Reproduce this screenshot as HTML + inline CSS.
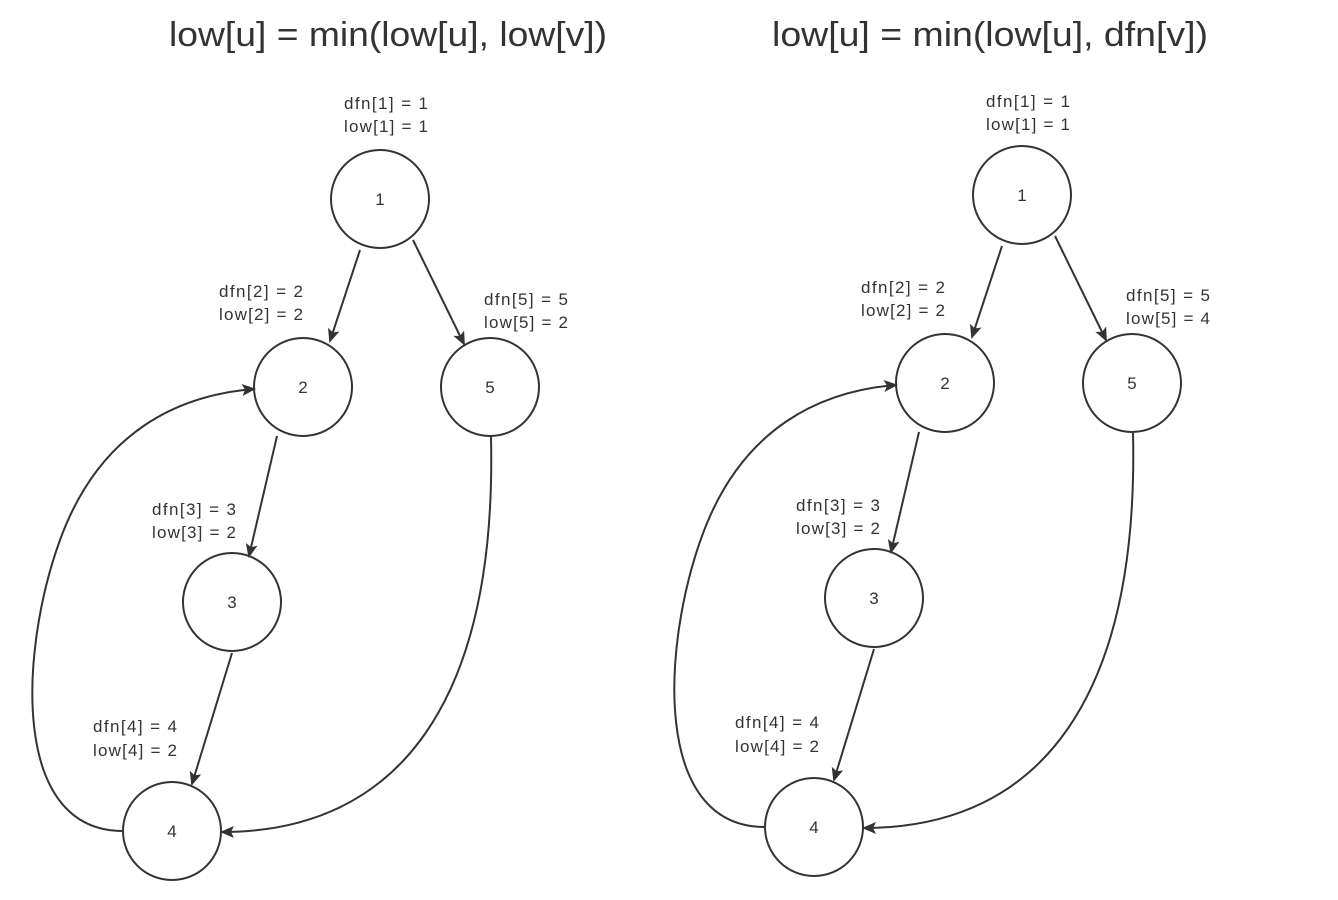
<!DOCTYPE html>
<html><head><meta charset="utf-8"><style>
body{margin:0;background:#fff}
svg{display:block}
text{font-family:"Liberation Sans",sans-serif;fill:#333}
</style></head><body>
<svg width="1338" height="900" viewBox="0 0 1338 900" xmlns="http://www.w3.org/2000/svg">
<defs>
<marker id="a" markerWidth="14" markerHeight="12" refX="12" refY="6" orient="auto" markerUnits="userSpaceOnUse">
<path d="M0,0 L14,6 L0,12 L3,6 Z" fill="#333"/></marker>
</defs>
<g id="L">
<text x="388" y="46" font-size="34" text-anchor="middle" textLength="438" lengthAdjust="spacingAndGlyphs">low[u] = min(low[u], low[v])</text>
<g fill="none" stroke="#333" stroke-width="2">
<circle cx="380" cy="199" r="49" fill="#fff"/>
<circle cx="303" cy="387" r="49" fill="#fff"/>
<circle cx="490" cy="387" r="49" fill="#fff"/>
<circle cx="232" cy="602" r="49" fill="#fff"/>
<circle cx="172" cy="831" r="49" fill="#fff"/>
<path d="M360,250 L330,341" marker-end="url(#a)"/>
<path d="M413,240 L464,344" marker-end="url(#a)"/>
<path d="M277,436 L249,556" marker-end="url(#a)"/>
<path d="M232,653 L192,784" marker-end="url(#a)"/>
<path d="M491,437 C497,700 400,832 222,832" marker-end="url(#a)"/>
<path d="M123,831 C10,831 20,650 60,540 C100,430 180,395 254,389" marker-end="url(#a)"/>
</g>
<g font-size="17" text-anchor="middle">
<text x="380" y="205">1</text><text x="303" y="393">2</text><text x="490" y="393">5</text>
<text x="232" y="608">3</text><text x="172" y="837">4</text>
<text x="386" y="109" textLength="84">dfn[1] = 1</text><text x="386" y="132" textLength="84">low[1] = 1</text>
<text x="261" y="297" textLength="84">dfn[2] = 2</text><text x="261" y="320" textLength="84">low[2] = 2</text>
<text x="526" y="305" textLength="84">dfn[5] = 5</text><text x="526" y="328" textLength="84">low[5] = 2</text>
<text x="194" y="515" textLength="84">dfn[3] = 3</text><text x="194" y="538" textLength="84">low[3] = 2</text>
<text x="135" y="732" textLength="84">dfn[4] = 4</text><text x="135" y="756" textLength="84">low[4] = 2</text>
</g>
</g>
<g transform="translate(642,-4)">
<text x="348" y="50" font-size="34" text-anchor="middle" textLength="436" lengthAdjust="spacingAndGlyphs">low[u] = min(low[u], dfn[v])</text>
<g fill="none" stroke="#333" stroke-width="2">
<circle cx="380" cy="199" r="49" fill="#fff"/>
<circle cx="303" cy="387" r="49" fill="#fff"/>
<circle cx="490" cy="387" r="49" fill="#fff"/>
<circle cx="232" cy="602" r="49" fill="#fff"/>
<circle cx="172" cy="831" r="49" fill="#fff"/>
<path d="M360,250 L330,341" marker-end="url(#a)"/>
<path d="M413,240 L464,344" marker-end="url(#a)"/>
<path d="M277,436 L249,556" marker-end="url(#a)"/>
<path d="M232,653 L192,784" marker-end="url(#a)"/>
<path d="M491,437 C497,700 400,832 222,832" marker-end="url(#a)"/>
<path d="M123,831 C10,831 20,650 60,540 C100,430 180,395 254,389" marker-end="url(#a)"/>
</g>
<g font-size="17" text-anchor="middle">
<text x="380" y="205">1</text><text x="303" y="393">2</text><text x="490" y="393">5</text>
<text x="232" y="608">3</text><text x="172" y="837">4</text>
<text x="386" y="111" textLength="84">dfn[1] = 1</text><text x="386" y="134" textLength="84">low[1] = 1</text>
<text x="261" y="297" textLength="84">dfn[2] = 2</text><text x="261" y="320" textLength="84">low[2] = 2</text>
<text x="526" y="305" textLength="84">dfn[5] = 5</text><text x="526" y="328" textLength="84">low[5] = 4</text>
<text x="196" y="515" textLength="84">dfn[3] = 3</text><text x="196" y="538" textLength="84">low[3] = 2</text>
<text x="135" y="732" textLength="84">dfn[4] = 4</text><text x="135" y="756" textLength="84">low[4] = 2</text>
</g>
</g>
</svg>
</body></html>
